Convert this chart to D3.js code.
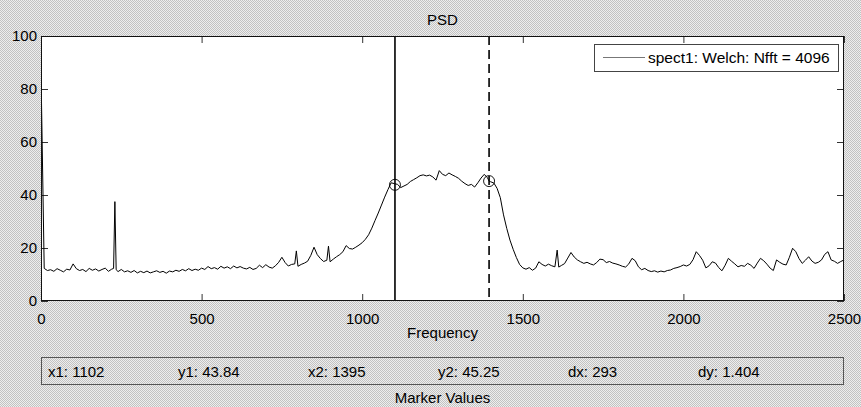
<!DOCTYPE html>
<html>
<head>
<meta charset="utf-8">
<script src="https://cdn.jsdelivr.net/npm/d3@7/dist/d3.min.js"></script>
<style>
  html, body { margin: 0; padding: 0; background: #d6d6d6; }
  svg { display: block; }
  text { font-family: "Liberation Sans", Arial, sans-serif; fill: #000; }
</style>
</head>
<body>
<svg id="chart" width="861" height="407"></svg>
<script>
// ---------------- data ----------------
const title = "PSD";
const xLabel = "Frequency";
const legendLabel = "spect1: Welch: Nfft = 4096";
const xTicks = [0, 500, 1000, 1500, 2000, 2500];
const yTicks = [0, 20, 40, 60, 80, 100];

const freqHz = [
  0, 10, 20, 30, 40, 50, 60, 70, 80, 90,
  100, 110, 120, 130, 140, 150, 160, 170, 180, 190,
  200, 210, 220, 226, 230, 234, 240, 250, 260, 270, 280, 290,
  300, 310, 320, 330, 340, 350, 360, 370, 380, 390,
  400, 410, 420, 430, 440, 450, 460, 470, 480, 490,
  500, 510, 520, 530, 540, 550, 560, 570, 580, 590,
  600, 610, 620, 630, 640, 650, 660, 670, 680, 690,
  700, 710, 720, 730, 740, 750, 760, 770, 780, 790, 795,
  800, 810, 820, 830, 840, 850, 860, 870, 880, 890, 895,
  900, 910, 920, 930, 940, 950, 960, 970, 980, 990,
  1000, 1010, 1020, 1030, 1040, 1050, 1060, 1070, 1080, 1090,
  1100, 1110, 1120, 1130, 1140, 1150, 1160, 1170, 1180, 1190,
  1200, 1210, 1220, 1230, 1240, 1250, 1260, 1270, 1280, 1290,
  1300, 1310, 1320, 1330, 1340, 1350, 1360, 1370, 1380, 1390, 1395,
  1400, 1410, 1420, 1430, 1440, 1450, 1460, 1470, 1480, 1490,
  1500, 1510, 1520, 1530, 1540, 1550, 1560, 1570, 1580, 1590,
  1600, 1607, 1612, 1620, 1630, 1640, 1650, 1660, 1670, 1680, 1690,
  1700, 1710, 1720, 1730, 1740, 1750, 1760, 1770, 1780, 1790,
  1800, 1810, 1820, 1830, 1840, 1850, 1860, 1870, 1880, 1890,
  1900, 1910, 1920, 1930, 1940, 1950, 1960, 1970, 1980, 1990,
  2000, 2010, 2020, 2030, 2040, 2050, 2060, 2070, 2080, 2090,
  2100, 2110, 2120, 2130, 2140, 2150, 2160, 2170, 2180, 2190,
  2200, 2210, 2220, 2230, 2240, 2250, 2260, 2270, 2280, 2290,
  2300, 2310, 2320, 2330, 2340, 2350, 2360, 2370, 2380, 2390,
  2400, 2410, 2420, 2430, 2440, 2450, 2460, 2470, 2480, 2490,
  2500
];

const psdValues = [
  86.5, 12.3, 11.5, 11.8, 11.2, 12.2, 11.6, 11.0, 12.0, 11.7,
  14.0, 12.2, 11.5, 11.9, 11.1, 12.3, 11.6, 12.1, 11.3, 11.9,
  12.4, 11.2, 12.0, 12.3, 37.5, 11.8, 11.1, 11.9, 11.0, 11.4, 10.8, 11.5,
  10.6, 11.2, 10.7, 11.3, 10.6, 11.0, 11.4, 10.8, 11.2, 10.5,
  11.3, 11.0, 11.6, 11.2, 11.9, 11.4, 12.2, 11.5, 12.0, 11.6,
  12.4, 11.9, 13.0, 12.2, 12.6, 12.0, 13.1, 12.4, 12.9, 12.2,
  13.2, 12.5, 13.0, 12.4, 12.1, 12.7, 11.9, 12.3, 13.5, 12.6,
  13.7, 12.8, 12.4, 13.3, 14.6, 16.5, 14.5, 13.2, 13.8, 14.0, 18.9,
  13.1, 13.8, 14.3, 15.0, 17.2, 20.3, 17.5, 16.0, 14.9, 15.4, 20.7,
  14.8, 15.8, 16.7, 17.5, 18.6, 20.9, 19.8, 19.6, 20.3, 21.1,
  22.0, 23.3, 25.0, 27.5, 30.4, 33.2, 36.2, 39.2, 42.0, 44.6,
  44.3, 44.0, 42.8, 43.4, 44.0, 45.1, 45.8, 46.5, 47.3, 47.6,
  47.2, 47.5, 46.8, 45.6, 49.2, 47.8, 47.3, 48.3, 47.6, 47.0,
  46.3, 45.2, 44.3, 43.6, 44.0, 43.0, 44.6, 46.4, 47.8, 46.5, 45.25,
  45.0, 44.5, 42.5, 39.0, 32.5, 27.4, 23.0, 19.5, 16.4, 13.8,
  12.5, 12.0, 12.6, 11.6, 12.4, 14.8, 13.8, 13.2, 13.9, 13.3,
  12.9, 19.2, 12.8, 13.4, 14.1, 16.2, 18.3, 16.6, 15.5, 14.8, 14.2,
  14.6, 14.0, 13.6, 14.5, 15.8, 15.6, 14.5, 14.9, 14.3, 14.0,
  13.6, 13.1, 12.8, 14.0, 16.1, 15.2, 12.9, 11.8, 12.3, 11.5,
  11.1, 11.4, 10.9, 11.3, 11.0, 11.5, 11.7, 12.3, 12.6, 13.0,
  13.6, 13.2, 13.8, 15.6, 18.6, 17.2, 15.4, 12.5, 13.3, 14.8,
  14.3, 12.6, 11.4, 13.5, 16.1, 15.0, 14.0, 12.9, 13.4, 13.1,
  14.2, 13.5, 12.3, 14.3, 16.1, 15.2, 13.9, 12.4, 11.5, 15.5,
  14.6, 13.9, 13.6, 16.5, 19.9, 18.6, 16.0, 14.2, 15.4, 16.7,
  15.1, 14.2, 14.6, 15.5, 17.6, 18.6, 15.5, 15.0, 14.2, 14.9,
  15.5
];

const markerX = [1102, 1395];
const markerY = [43.84, 45.25];
const markerLabels = ["x1: 1102", "y1: 43.84", "x2: 1395", "y2: 45.25", "dx: 293", "dy: 1.404"];
const markerTitle = "Marker Values";

// ---------------- drawing ----------------
const svg = d3.select("#chart");
const W = 861, H = 407;
const plot = { left: 41, top: 36, right: 844, bottom: 301 };
const FS = 15;

const defs = svg.append("defs");
const pat = defs.append("pattern").attr("id", "bg").attr("width", 2).attr("height", 2)
  .attr("patternUnits", "userSpaceOnUse");
pat.append("rect").attr("width", 2).attr("height", 2).attr("fill", "#eeeeee");
pat.append("rect").attr("x", 0).attr("y", 0).attr("width", 1).attr("height", 1).attr("fill", "#c2c2c2");
pat.append("rect").attr("x", 1).attr("y", 1).attr("width", 1).attr("height", 1).attr("fill", "#c2c2c2");
defs.append("clipPath").attr("id", "clip").append("rect")
  .attr("x", plot.left).attr("y", plot.top)
  .attr("width", plot.right - plot.left).attr("height", plot.bottom - plot.top);

svg.append("rect").attr("width", W).attr("height", H).attr("fill", "url(#bg)");

const x = d3.scaleLinear().domain([0, 2500]).range([plot.left, plot.right]);
const y = d3.scaleLinear().domain([0, 100]).range([plot.bottom, plot.top]);

// plot background
svg.append("rect")
  .attr("x", plot.left).attr("y", plot.top)
  .attr("width", plot.right - plot.left).attr("height", plot.bottom - plot.top)
  .attr("fill", "#ffffff");

// axes (inward ticks, on all four sides)
const tickLen = 7;
const axB = svg.append("g").attr("transform", `translate(0,${plot.bottom})`)
  .call(d3.axisBottom(x).tickValues(xTicks).tickSize(-tickLen).tickPadding(12).tickFormat(d3.format("d")));
const axT = svg.append("g").attr("transform", `translate(0,${plot.top})`)
  .call(d3.axisTop(x).tickValues(xTicks).tickSize(-tickLen).tickFormat(""));
const axL = svg.append("g").attr("transform", `translate(${plot.left},0)`)
  .call(d3.axisLeft(y).tickValues(yTicks).tickSize(-tickLen).tickPadding(4).tickFormat(d3.format("d")));
const axR = svg.append("g").attr("transform", `translate(${plot.right},0)`)
  .call(d3.axisRight(y).tickValues(yTicks).tickSize(-tickLen).tickFormat(""));
[axB, axT, axL, axR].forEach(g => {
  g.select(".domain").remove();
  g.selectAll(".tick line").attr("stroke", "#333").attr("stroke-width", 1);
  g.selectAll(".tick text").attr("font-size", FS).attr("fill", "#000")
    .attr("font-family", "Liberation Sans, Arial, sans-serif");
});

// spectrum line
const data = freqHz.map((f, i) => [f, psdValues[i]]);
const g = svg.append("g").attr("clip-path", "url(#clip)");
g.append("path").datum(data)
  .attr("fill", "none").attr("stroke", "#000").attr("stroke-width", 1)
  .attr("stroke-linejoin", "round")
  .attr("d", d3.line().x(d => x(d[0])).y(d => y(d[1])));

// marker lines
g.append("line").attr("x1", x(markerX[0])).attr("x2", x(markerX[0]))
  .attr("y1", plot.top).attr("y2", plot.bottom)
  .attr("stroke", "#000").attr("stroke-width", 1.6);
g.append("line").attr("x1", x(markerX[1])).attr("x2", x(markerX[1]))
  .attr("y1", plot.top).attr("y2", plot.bottom)
  .attr("stroke", "#000").attr("stroke-width", 1.6).attr("stroke-dasharray", "9,5");
markerX.forEach((mx, i) => {
  g.append("circle").attr("cx", x(mx)).attr("cy", y(markerY[i])).attr("r", 5.5)
    .attr("fill", "none").attr("stroke", "#000").attr("stroke-width", 0.9);
});

// plot frame
svg.append("rect")
  .attr("x", plot.left + 0.5).attr("y", plot.top + 0.5)
  .attr("width", plot.right - plot.left - 1).attr("height", plot.bottom - plot.top - 1)
  .attr("fill", "none").attr("stroke", "#111").attr("stroke-width", 1);

// legend
const lg = svg.append("g");
lg.append("rect").attr("x", 594.5).attr("y", 44.5).attr("width", 244).attr("height", 27)
  .attr("fill", "#fff").attr("stroke", "#444").attr("stroke-width", 1);
lg.append("line").attr("x1", 603).attr("x2", 645).attr("y1", 57.5).attr("y2", 57.5)
  .attr("stroke", "#777").attr("stroke-width", 1);
lg.append("text").attr("x", 648).attr("y", 63).attr("font-size", 15.5).text(legendLabel);

// titles
svg.append("text").attr("x", (plot.left + plot.right) / 2).attr("y", 25)
  .attr("text-anchor", "middle").attr("font-size", FS).text(title);
svg.append("text").attr("x", (plot.left + plot.right) / 2).attr("y", 338)
  .attr("text-anchor", "middle").attr("font-size", FS).text(xLabel);

// marker value box
svg.append("rect").attr("x", plot.left + 0.5).attr("y", 357.5)
  .attr("width", plot.right - plot.left - 1).attr("height", 27)
  .attr("fill", "none").attr("stroke", "#555").attr("stroke-width", 1);
const mxPos = d3.scaleLinear().domain([0, 5]).range([48, 698]);
markerLabels.forEach((t, i) => {
  svg.append("text").attr("x", mxPos(i)).attr("y", 377).attr("font-size", FS).text(t);
});
svg.append("text").attr("x", (plot.left + plot.right) / 2).attr("y", 403)
  .attr("text-anchor", "middle").attr("font-size", FS).text(markerTitle);
</script>
</body>
</html>
